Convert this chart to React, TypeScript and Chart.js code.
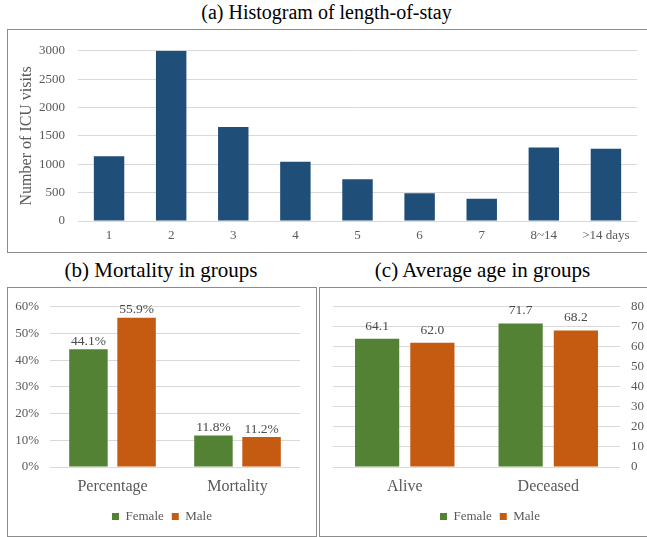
import React, { useEffect, useRef } from "react";
import { Chart, registerables } from "chart.js";

Chart.register(...registerables);

// ---------- data ----------
const losCategories = ["1", "2", "3", "4", "5", "6", "7", "8~14", ">14 days"];
const losCounts = [1140, 3000, 1655, 1045, 735, 488, 393, 1295, 1275];

const seriesNames = ["Female", "Male"];

const mortalityCategories = ["Percentage", "Mortality"];
const mortalityFemale = [44.1, 11.8];
const mortalityMale = [55.9, 11.2];

const ageCategories = ["Alive", "Deceased"];
const ageFemale = [64.1, 71.7];
const ageMale = [62.0, 68.2];

const titleA = "(a) Histogram of length-of-stay";
const titleB = "(b) Mortality in groups";
const titleC = "(c) Average age in groups";

// ---------- styles ----------
const FONT = "'Liberation Serif', 'Times New Roman', serif";
const TICK = "#595959";
const GRID = "#d9d9d9";
const BLUE = "#1F4E79";
const GREEN = "#548235";
const ORANGE = "#C55A11";
const BORDER = "#8c8c8c";

Chart.defaults.font.family = FONT;
Chart.defaults.color = TICK;

function valueLabels(fmt: (v: number) => string, offset: number) {
  return {
    id: "valueLabels",
    afterDatasetsDraw(chart: any) {
      const ctx = chart.ctx;
      ctx.save();
      ctx.font = `13.5px ${FONT}`;
      ctx.fillStyle = "#4a4a4a";
      ctx.textAlign = "center";
      ctx.textBaseline = "middle";
      chart.data.datasets.forEach((ds: any, i: number) => {
        const meta = chart.getDatasetMeta(i);
        meta.data.forEach((el: any, j: number) => {
          ctx.fillText(fmt(ds.data[j]), el.x, el.y - offset);
        });
      });
      ctx.restore();
    },
  };
}

function configA() {
  return {
    type: "bar",
    data: {
      labels: losCategories,
      datasets: [
        {
          data: losCounts,
          backgroundColor: BLUE,
          barPercentage: 0.49,
          categoryPercentage: 1,
        },
      ],
    },
    options: {
      animation: false,
      responsive: false,
      layout: { padding: { left: 0, top: 10, right: 11, bottom: 0 } },
      plugins: { legend: { display: false }, tooltip: { enabled: false } },
      scales: {
        x: {
          grid: { display: false, drawTicks: false },
          border: { display: false },
          ticks: { color: TICK, font: { family: FONT, size: 13 }, padding: 7, maxRotation: 0 },
          afterFit: (s: any) => {
            s.height = 31;
          },
        },
        y: {
          min: 0,
          max: 3000,
          ticks: {
            stepSize: 500,
            color: TICK,
            font: { family: FONT, size: 13 },
            padding: 13,
            callback: (v: any) => String(v),
          },
          grid: { color: GRID, drawTicks: false },
          border: { display: false },
          title: {
            display: true,
            text: "Number of ICU visits",
            color: TICK,
            font: { family: FONT, size: 16 },
            padding: { top: 9, bottom: 0 },
          },
          afterFit: (s: any) => {
            s.width = 70;
          },
        },
      },
    },
  };
}

function groupedConfig(
  labels: string[],
  female: number[],
  male: number[],
  max: number,
  tickFmt: (v: number) => string,
  labelFmt: (v: number) => string,
  labelOffset: number,
  right: boolean
) {
  const scales: any = {
    x: {
      grid: { display: false, drawTicks: false },
      border: { display: false },
      ticks: { color: TICK, font: { family: FONT, size: 16 }, padding: 10 },
      afterFit: (s: any) => {
        s.height = 35;
      },
    },
    y: {
      position: right ? "right" : "left",
      min: 0,
      max,
      ticks: {
        stepSize: 10,
        color: TICK,
        font: { family: FONT, size: 13 },
        padding: 11,
        callback: (v: any) => tickFmt(Number(v)),
      },
      grid: { color: GRID, drawTicks: false },
      border: { display: false },
      afterFit: (s: any) => {
        s.width = right ? 27 : 42;
      },
    },
  };
  if (!right) {
    // empty spacer on the right so the legend centres on the whole panel
    scales.spacer = {
      type: "linear",
      position: "right",
      min: 0,
      max,
      grid: { display: false, drawTicks: false },
      border: { display: false },
      ticks: { display: false },
      afterFit: (s: any) => {
        s.width = 16;
      },
    };
  }
  return {
    type: "bar",
    data: {
      labels,
      datasets: [
        { label: seriesNames[0], data: female, backgroundColor: GREEN, barPercentage: 0.8, categoryPercentage: 0.77 },
        { label: seriesNames[1], data: male, backgroundColor: ORANGE, barPercentage: 0.8, categoryPercentage: 0.77 },
      ],
    },
    options: {
      animation: false,
      responsive: false,
      font: { family: FONT },
      layout: right
        ? { padding: { left: 13, top: 15, right: 0, bottom: 3 } }
        : { padding: { left: 0, top: 15, right: 0, bottom: 3 } },
      plugins: {
        tooltip: { enabled: false },
        legend: {
          position: "bottom",
          labels: {
            boxWidth: 7,
            boxHeight: 7,
            padding: 8,
            color: TICK,
            font: { family: FONT, size: 13 },
          },
        },
      },
      scales,
    },
    plugins: [valueLabels(labelFmt, labelOffset)],
  };
}

function ChartBox(props: {
  left: number;
  top: number;
  width: number;
  height: number;
  make: () => any;
}) {
  const ref = useRef<HTMLCanvasElement | null>(null);
  const innerW = props.width - 2;
  const innerH = props.height - 2;
  useEffect(() => {
    const chart = new Chart(ref.current as HTMLCanvasElement, props.make());
    return () => chart.destroy();
  }, []);
  return (
    <div
      style={{
        position: "absolute",
        left: props.left,
        top: props.top,
        width: props.width,
        height: props.height,
        border: `1px solid ${BORDER}`,
        boxSizing: "border-box",
      }}
    >
      <canvas
        ref={ref}
        width={innerW}
        height={innerH}
        style={{ position: "absolute", left: 0, top: 0, width: innerW, height: innerH }}
      />
    </div>
  );
}

function Title(props: { text: string; cx: number; top: number; size: number }) {
  return (
    <div
      style={{
        position: "absolute",
        left: props.cx - 200,
        width: 400,
        top: props.top,
        height: 24,
        lineHeight: "24px",
        fontSize: props.size,
        fontFamily: FONT,
        color: "#000",
        textAlign: "center",
        whiteSpace: "nowrap",
      }}
    >
      {props.text}
    </div>
  );
}

export default function App() {
  return (
    <div
      style={{
        position: "absolute",
        left: 0,
        top: 0,
        width: 647,
        height: 537,
        background: "#fff",
        overflow: "hidden",
      }}
    >
      <Title text={titleA} cx={326.5} top={0} size={20} />
      <ChartBox left={7} top={29} width={642} height={224} make={configA} />
      <Title text={titleB} cx={161} top={258} size={21} />
      <ChartBox
        left={7}
        top={287}
        width={310}
        height={250}
        make={() =>
          groupedConfig(
            mortalityCategories,
            mortalityFemale,
            mortalityMale,
            60,
            (v) => `${v}%`,
            (v) => `${v.toFixed(1)}%`,
            8,
            false
          )
        }
      />
      <Title text={titleC} cx={482.5} top={258} size={21} />
      <ChartBox
        left={319}
        top={287}
        width={329}
        height={250}
        make={() =>
          groupedConfig(
            ageCategories,
            ageFemale,
            ageMale,
            80,
            (v) => `${v}`,
            (v) => v.toFixed(1),
            12.5,
            true
          )
        }
      />
    </div>
  );
}
